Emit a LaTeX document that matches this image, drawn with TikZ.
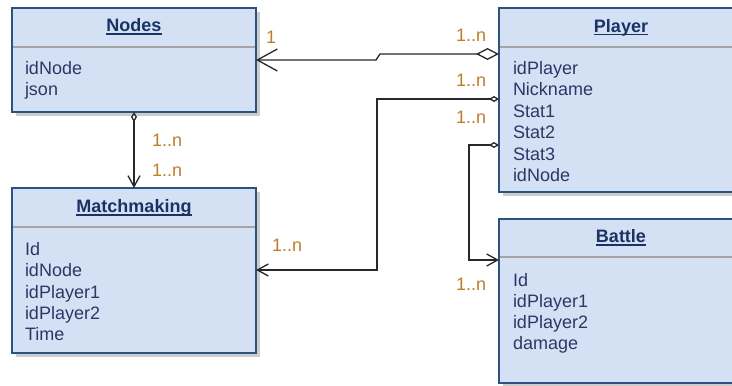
\documentclass[tikz,border=0pt]{standalone}
\usepackage{fontspec}
\setmainfont{Liberation Sans}
\usetikzlibrary{arrows.meta,calc,shadows}

\definecolor{boxfill}{RGB}{212,225,244}
\definecolor{boxline}{RGB}{44,82,130}
\definecolor{sepline}{RGB}{165,165,165}
\definecolor{shadowc}{RGB}{205,205,205}
\definecolor{headtext}{RGB}{26,50,100}
\definecolor{attrtext}{RGB}{42,56,102}
\definecolor{multtext}{RGB}{190,125,40}
\definecolor{wirec}{RGB}{40,40,40}

\begin{document}
\begin{tikzpicture}[x=1pt,y=-1pt,
  every node/.style={inner sep=0pt, outer sep=0pt},
  umlbox/.style={draw=boxline, line width=1.4pt, fill=boxfill, anchor=north west,
    drop shadow={shadow xshift=3.5pt, shadow yshift=-3.5pt, fill=shadowc, opacity=1}},
  septop/.style={draw=sepline, line width=1.6pt},
  headname/.style={anchor=base, text=headtext, font=\fontsize{18}{21}\selectfont\bfseries},
  headrule/.style={draw=headtext, line width=1.3pt},
  attr/.style={anchor=base west, text=attrtext, font=\fontsize{18}{21}\selectfont},
  mult/.style={anchor=base west, text=multtext, font=\fontsize{18}{21}\selectfont},
  wire/.style={draw=wirec, line width=1.3pt},
]
\clip (0,0) rectangle (732,386);
\fill[white] (0,0) rectangle (732,386);

% class boxes
\node[umlbox, minimum width=244pt, minimum height=104pt] (nodes) at (12,8) {};
\node[umlbox, minimum width=245pt, minimum height=184pt] (player) at (499,8) {};
\node[umlbox, minimum width=244pt, minimum height=165pt] (match) at (12,188) {};
\node[umlbox, minimum width=245pt, minimum height=164pt] (battle) at (499,219) {};

% compartment separators
\draw[septop] ($(nodes.north west)+(1,39)$) -- ($(nodes.north east)+(-1,39)$);
\draw[septop] ($(player.north west)+(1,39)$) -- ($(player.north east)+(-1,39)$);
\draw[septop] ($(match.north west)+(1,39)$) -- ($(match.north east)+(-1,39)$);
\draw[septop] ($(battle.north west)+(1,38)$) -- ($(battle.north east)+(-1,38)$);

% class names
\node[headname] (nodes-t) at (134,31.7) {Nodes};
\node[headname] (player-t) at (621,32) {Player};
\node[headname] (match-t) at (134,212.7) {Matchmaking};
\node[headname] (battle-t) at (621,242.7) {Battle};
\foreach \h in {nodes-t,player-t,match-t,battle-t}
  \draw[headrule] ($(\h.base west)+(0,2.4)$) -- ($(\h.base east)+(0,2.4)$);

% attributes
\node[attr] (n1) at (25,74) {idNode};
\node[attr] (n2) at (25,95.5) {json};

\node[attr] (p1) at (513,74) {idPlayer};
\node[attr] (p2) at (513,95.5) {Nickname};
\node[attr] (p3) at (513,117) {Stat1};
\node[attr] (p4) at (513,138.5) {Stat2};
\node[attr] (p5) at (513,160) {Stat3};
\node[attr] (p6) at (513,181.5) {idNode};

\node[attr] (m1) at (25,255) {Id};
\node[attr] (m2) at (25,276.5) {idNode};
\node[attr] (m3) at (25,298) {idPlayer1};
\node[attr] (m4) at (25,319) {idPlayer2};
\node[attr] (m5) at (25,340.5) {Time};

\node[attr] (b1) at (513,286) {Id};
\node[attr] (b2) at (513,307) {idPlayer1};
\node[attr] (b3) at (513,328.5) {idPlayer2};
\node[attr] (b4) at (513,349.5) {damage};

% associations
\coordinate (pa) at ($(player.north west)+(0,46)$);
\coordinate (pb) at ($(player.north west)+(0,91)$);
\coordinate (pc) at ($(player.north west)+(0,137)$);

\draw[wire, {Diamond[open, length=23pt, width=12pt, line width=1.3pt]}-{Straight Barb[length=20pt, width=22pt, line width=1.3pt]}]
  (pa) -- ++(-119,0) -- ++(-4,6) -- (nodes.east |- 0,60);
\draw[wire, {Diamond[open, length=10pt, width=6pt, line width=1.3pt]}-{Straight Barb[length=11pt, width=12pt, line width=1.3pt]}]
  (pb) -| (377,270) -- (match.east |- 0,270);
\draw[wire, {Diamond[open, length=10pt, width=6pt, line width=1.3pt]}-{Straight Barb[length=11pt, width=12pt, line width=1.3pt]}]
  (pc) -| (469,260) -- (battle.west |- 0,260);
\draw[wire, {Diamond[open, length=10pt, width=6pt, line width=1.3pt]}-{Straight Barb[length=11pt, width=12pt, line width=1.3pt]}]
  (nodes.south) -- (match.north);

% multiplicities
\node[mult] (l1) at (266,43) {1};
\node[mult] (l2) at (456,41) {1..n};
\node[mult] (l3) at (456,86) {1..n};
\node[mult] (l4) at (456,123) {1..n};
\node[mult] (l5) at (456,290.5) {1..n};
\node[mult] (l6) at (152,146.5) {1..n};
\node[mult] (l7) at (152,176) {1..n};
\node[mult] (l8) at (272,251.5) {1..n};
\end{tikzpicture}
\end{document}
